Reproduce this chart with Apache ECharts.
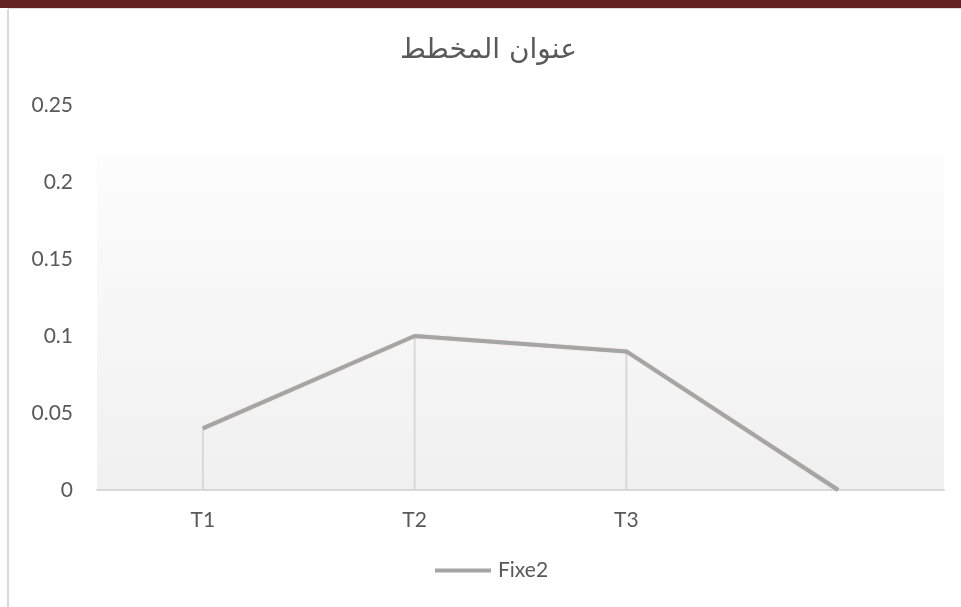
<!DOCTYPE html>
<html>
<head>
<meta charset="utf-8">
<script src="https://cdn.jsdelivr.net/npm/echarts@6/dist/echarts.min.js"></script>
<style>
html,body{margin:0;padding:0;background:#fff;}
#c{width:961px;height:607px;}
</style>
</head>
<body>
<div id="c"></div>
<script>
var categories = ['T1', 'T2', 'T3', ''];
var fixe2 = [0.04, 0.1, 0.09, 0];
var yTicks = [0, 0.05, 0.1, 0.15, 0.2, 0.25];
var titleText = 'عنوان المخطط';
var seriesName = 'Fixe2';

var chart = echarts.init(document.getElementById('c'), null, {renderer: 'canvas'});
var font = 'Lato, "Open Sans", sans-serif';
chart.setOption({
  animation: false,
  backgroundColor: '#ffffff',
  title: {
    text: titleText,
    left: 395,
    top: 32,
    textStyle: {fontFamily: '"DejaVu Sans", sans-serif', fontSize: 28, fontWeight: 'normal', color: '#595959'}
  },
  graphic: [
    {type: 'rect', shape: {x: 0, y: 0, width: 961, height: 8}, style: {fill: '#622323'}},
    {type: 'rect', shape: {x: 8, y: 8, width: 953, height: 1}, style: {fill: '#dcdcdc'}},
    {type: 'rect', shape: {x: 7, y: 9, width: 2, height: 598}, style: {fill: '#d9d9d9'}}
  ],
  legend: {
    top: 560,
    left: 435,
    padding: 0,
    data: [seriesName],
    itemWidth: 56,
    itemHeight: 4,
    itemGap: 0,
    icon: 'rect',
    textStyle: {fontFamily: font, fontSize: 21, color: '#595959', padding: [0,0,0,2]}
  },
  grid: {
    left: 97, right: 17, top: 105, bottom: 117,
    show: true,
    borderWidth: 0,
    backgroundColor: {
      type: 'linear', x: 0, y: 0, x2: 0, y2: 1,
      colorStops: [
        {offset: 0, color: '#ffffff'},
        {offset: 0.129, color: '#ffffff'},
        {offset: 0.13, color: '#fdfdfd'},
        {offset: 1, color: '#f0f0f0'}
      ]
    }
  },
  xAxis: {
    type: 'category',
    data: categories,
    boundaryGap: true,
    axisLine: {lineStyle: {color: '#d9d9d9', width: 2}},
    axisTick: {show: false},
    axisLabel: {fontFamily: font, fontSize: 21, color: '#595959', margin: 20}
  },
  yAxis: {
    type: 'value',
    min: 0, max: 0.25, interval: 0.05,
    axisLine: {show: false},
    axisTick: {show: false},
    splitLine: {show: false},
    axisLabel: {
      fontFamily: font, fontSize: 21, color: '#595959', margin: 24,
      formatter: function (v) {
        for (var i = 0; i < yTicks.length; i++) { if (Math.abs(yTicks[i] - v) < 1e-9) return String(yTicks[i]); }
        return '';
      }
    }
  },
  series: [
    {
      name: 'drop',
      type: 'bar',
      data: fixe2,
      barWidth: 2,
      itemStyle: {color: '#d9d9d9'},
      silent: true,
      z: 1
    },
    {
      name: seriesName,
      type: 'line',
      data: fixe2,
      symbol: 'none',
      color: '#a5a5a5',
      lineStyle: {color: '#a5a5a5', width: 4, shadowColor: 'rgba(160,90,70,0.35)', shadowBlur: 1},
      z: 3
    }
  ]
});
</script>
</body>
</html>
